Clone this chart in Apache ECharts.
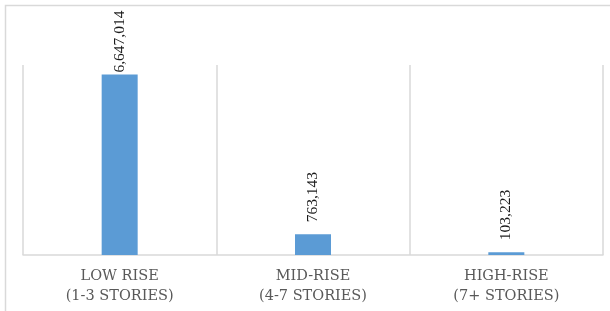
<!DOCTYPE html>
<html>
<head>
<meta charset="utf-8">
<style>
  html, body { margin: 0; padding: 0; background: #fff; }
  #chart { width: 610px; height: 311px; }
</style>
<script src="https://cdn.jsdelivr.net/npm/echarts@6/dist/echarts.min.js"></script>
</head>
<body>
<div id="chart"></div>
<script>
const categories = ['LOW RISE\n(1-3 STORIES)', 'MID-RISE\n(4-7 STORIES)', 'HIGH-RISE\n(7+ STORIES)']
const buildings = [6647014, 763143, 103223]

const chart = echarts.init(document.getElementById('chart'))

chart.setOption({
  animation: false,
  graphic: [{
    type: 'rect',
    shape: { x: 5.5, y: 5.5, width: 640, height: 340 },
    style: { fill: 'none', stroke: '#d9d9d9', lineWidth: 1.5 },
    silent: true
  }],
  grid: {
    top: 65,
    left: 23,
    right: 7,
    bottom: 56
  },
  xAxis: {
    type: 'category',
    data: categories,
    axisLine: { lineStyle: { color: '#d9d9d9', width: 1.5 } },
    axisTick: { show: false },
    splitLine: { show: true, lineStyle: { color: '#d9d9d9', width: 1.5 } },
    axisLabel: {
      color: '#595959',
      fontFamily: 'DejaVu Serif',
      fontSize: 14.5,
      lineHeight: 20,
      margin: 11
    }
  },
  yAxis: {
    type: 'value',
    min: 0,
    max: 7000000,
    show: false,
    splitLine: { show: false }
  },
  series: [{
    type: 'bar',
    // the tall bar's label is squeezed against the top, so it sits closer
    data: buildings.map((v, i) => i === 0 ? { value: v, label: { distance: 2 } } : v),
    barWidth: 36,
    itemStyle: { color: '#5b9bd5' },
    label: {
      show: true,
      position: 'top',
      rotate: 90,
      align: 'left',
      verticalAlign: 'middle',
      distance: 12,
      color: '#1a1a1a',
      fontFamily: 'Liberation Serif',
      fontSize: 15.5,
      formatter: p => p.value.toLocaleString('en-US')
    }
  }]
})
</script>
</body>
</html>
